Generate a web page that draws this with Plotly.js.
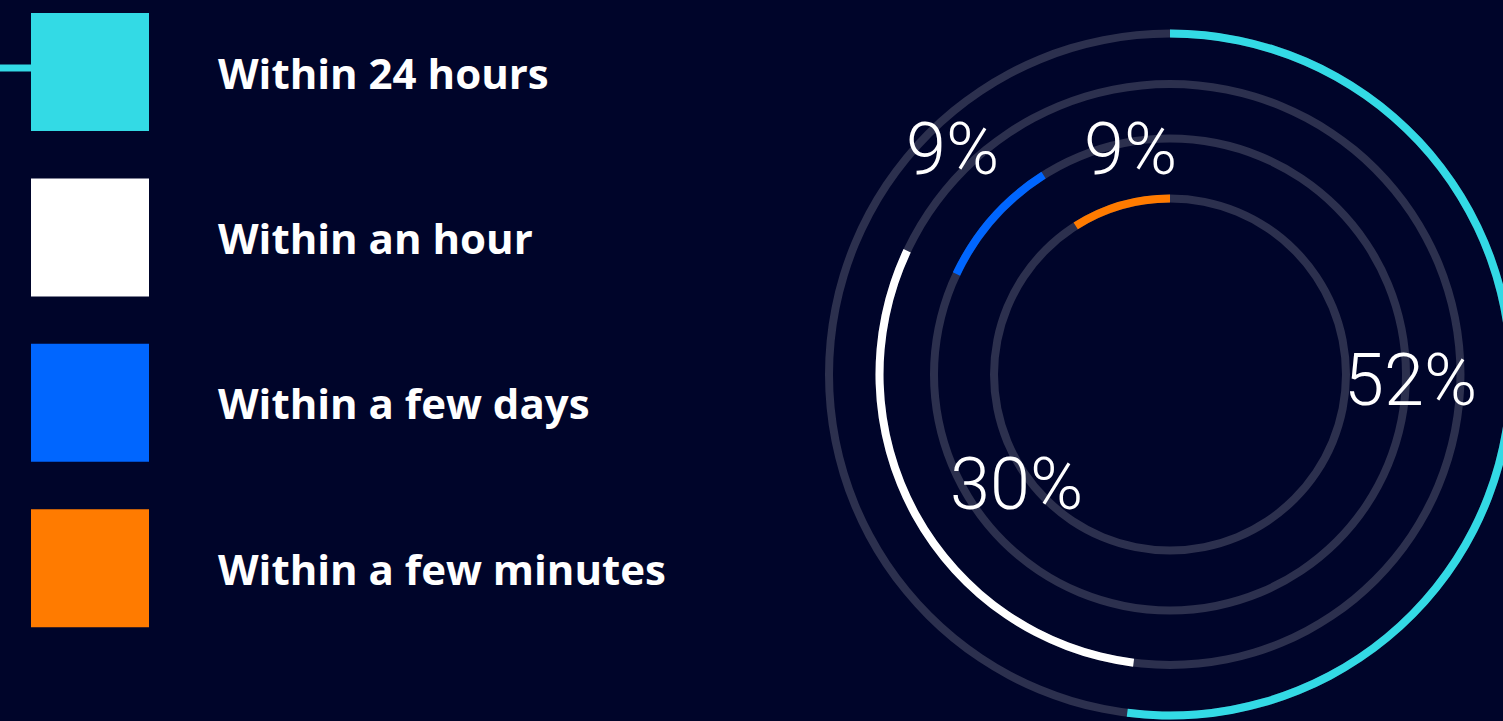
<!DOCTYPE html>
<html>
<head>
<meta charset="utf-8">
<script src="https://cdn.plot.ly/plotly-3.0.1.min.js"></script>
<style>
  html, body { margin: 0; padding: 0; background: #00052a; overflow: hidden; }
  #chart { width: 1540px; height: 750px; }
</style>
</head>
<body>
<div id="chart"></div>
<script>
// ---- data ----
const categories = ['Within 24 hours', 'Within an hour', 'Within a few days', 'Within a few minutes'];
const values = [52, 30, 9, 9];
const valueLabels = ['52%', '30%', '9%', '9%'];

// ---- style ----
const colors = ['#33dae5', '#ffffff', '#0066ff', '#ff7b00'];
const bg = '#00052a';
const trackColor = '#2c304e';
const ringRadius = [341, 290.5, 236, 176];   // px (radial axis units = px)
const ringWidth = 8;
const labelPos = [[1410, 380], [1016, 484], [952, 149], [1130, 149]];

const W = 1540, H = 750;
const cx = 1170, cy = 374.5, R = 350;

// cumulative angular positions
let cum = 0;
const thetaMid = [], thetaWidth = [];
values.forEach(v => {
  const w = v * 3.6;
  thetaMid.push(cum + w / 2);
  thetaWidth.push(w);
  cum += w;
});

const traces = [];
// tracks
traces.push({
  type: 'barpolar',
  theta: ringRadius.map(() => 180),
  width: ringRadius.map(() => 360),
  r: ringRadius.map(() => ringWidth),
  base: ringRadius.map(r => r - ringWidth / 2),
  marker: { color: trackColor, line: { width: 0 } },
  hoverinfo: 'skip',
  showlegend: false
});
// value arcs
traces.push({
  type: 'barpolar',
  theta: thetaMid,
  width: thetaWidth,
  r: ringRadius.map(() => ringWidth),
  base: ringRadius.map(r => r - ringWidth / 2),
  marker: { color: colors, line: { width: 0 } },
  text: categories,
  hoverinfo: 'text',
  showlegend: false
});
// legend squares
const legendX = 90, legendY0 = 72, legendStep = 165.4;
traces.push({
  type: 'scatter',
  mode: 'markers',
  x: categories.map(() => legendX),
  y: categories.map((c, i) => legendY0 + i * legendStep),
  marker: { symbol: 'square', size: 118, color: colors, line: { width: 0 } },
  cliponaxis: false,
  hoverinfo: 'skip',
  showlegend: false
});

const annotations = [];
categories.forEach((c, i) => {
  annotations.push({
    x: 216, y: legendY0 + i * legendStep, xref: 'x', yref: 'y',
    text: c, showarrow: false, xanchor: 'left', yanchor: 'middle',
    font: { family: 'Open Sans', size: 42, weight: 700, color: '#ffffff' }
  });
});
valueLabels.forEach((t, i) => {
  annotations.push({
    x: labelPos[i][0], y: labelPos[i][1], xref: 'x', yref: 'y',
    text: t, showarrow: false, xanchor: 'center', yanchor: 'middle',
    font: { family: 'Roboto', size: 72, weight: 300, color: '#ffffff' }
  });
});

const layout = {
  width: W, height: H,
  margin: { l: 0, r: 0, t: 0, b: 0 },
  paper_bgcolor: bg, plot_bgcolor: 'rgba(0,0,0,0)',
  showlegend: false,
  xaxis: { range: [0, W], visible: false, fixedrange: true, domain: [0, 1] },
  yaxis: { range: [H, 0], visible: false, fixedrange: true, domain: [0, 1] },
  polar: {
    domain: { x: [(cx - R) / W, (cx + R) / W], y: [1 - (cy + R) / H, 1 - (cy - R) / H] },
    bgcolor: 'rgba(0,0,0,0)',
    barmode: 'overlay',
    hole: 0,
    radialaxis: { range: [0, R], visible: false, showgrid: false, showline: false, showticklabels: false, ticks: '' },
    angularaxis: { rotation: 90, direction: 'clockwise', visible: false, showgrid: false, showline: false, showticklabels: false, ticks: '' }
  },
  shapes: [{
    type: 'line', xref: 'x', yref: 'y', x0: 0, x1: 31, y0: 68, y1: 68,
    line: { color: colors[0], width: 7 }, layer: 'below'
  }],
  annotations: annotations
};

Plotly.newPlot('chart', traces, layout, { displayModeBar: false, staticPlot: true });
</script>
</body>
</html>
